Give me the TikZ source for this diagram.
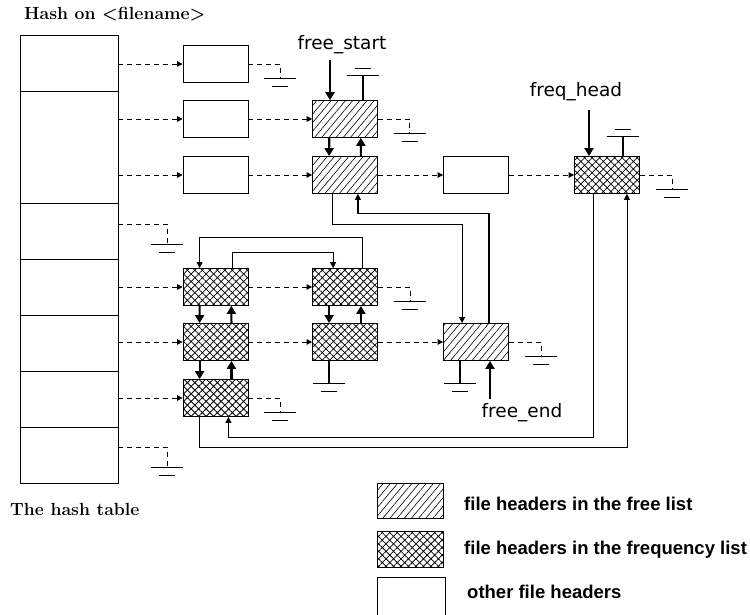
\documentclass[tikz,border=0pt]{standalone}
\usepackage{fontspec}
\usepackage{tikz}
\usetikzlibrary{arrows.meta,patterns.meta}
\newfontfamily\ptrfont{DejaVu Sans}
\newfontfamily\keyfont{Liberation Sans}
\definecolor{ink}{HTML}{000000}
\newcommand{\HdrW}{65pt}
\newcommand{\HdrH}{37pt}
\newcommand{\Off}{17pt}

\begin{document}
\begin{tikzpicture}[x=1pt,y=-1pt,
  every node/.style={inner sep=0pt},
  hdr/.style={draw=ink,line width=0.8pt,minimum width=\HdrW,minimum height=\HdrH},
  freehdr/.style={hdr,pattern={Lines[angle=50,distance=5.5pt,line width=0.6pt]},pattern color=ink},
  freqhdr/.style={hdr,pattern={Hatch[angle=45,distance=5.3pt,line width=0.75pt]},pattern color=ink},
  slot/.style={draw=ink,line width=0.8pt,minimum width=98pt},
  link/.style={ink,line width=0.8pt,dash pattern=on 5pt off 4pt,-{Triangle[length=5.5pt,width=5.5pt]}},
  nil/.style={ink,line width=0.8pt,dash pattern=on 5pt off 4pt},
  wire/.style={ink,line width=0.8pt,-{Triangle[length=6pt,width=6pt]}},
  bold/.style={ink,line width=2.2pt,-{Triangle[length=8pt,width=9pt]}},
  stub/.style={ink,line width=2.2pt},
  ptrlabel/.style={font=\ptrfont\fontsize{18.5}{20}\selectfont,anchor=base},
  heading/.style={font=\bfseries\fontsize{17.6}{19}\selectfont,anchor=base west},
  keytext/.style={font=\keyfont\bfseries\fontsize{18.5}{20}\selectfont,anchor=base west},
  earth/.pic={\draw[ink,line width=0.8pt] (-16,0) -- (16,0) (-8,8) -- (8,8);},
  sky/.pic={\draw[ink,line width=0.8pt] (-16,0) -- (16,0) (-8,-7) -- (8,-7);}
]
\path[use as bounding box,clip] (0,0) rectangle (750,615);

\node[heading] (thash) at (24,20) {Hash on <filename>};
\node[heading] (ttable) at (10,515) {The hash table};

\foreach \ya/\yb [count=\i from 0] in {35/91,91/203,203/259,259/315,315/371,371/427,427/483}
  \node[slot,minimum height=\yb pt-\ya pt] (h\i) at (69,{(\ya+\yb)/2}) {};

\foreach \n/\x/\y in {o1/215.5/64,o2/215.5/119,o3/215.5/175,o4/476/175}
  \node[hdr] (\n) at (\x,\y) {};
\foreach \n/\x/\y in {f1/345/119,f2/345/175,f3/476/342}
  \node[freehdr] (\n) at (\x,\y) {};
\foreach \n/\x/\y in {q1/215.5/287,q2/215.5/342,q3/215.5/398,q4/345/287,q5/345/342,qh/607/175}
  \node[freqhdr] (\n) at (\x,\y) {};

\foreach \r/\b in {0/o1,1/o2,1/o3,3/q1,4/q2,5/q3}
  \draw[link] (\b.west -| h\r.east) -- (\b.west);
\foreach \a/\b in {o2/f1,o3/f2,f2/o4,o4/qh,q1/q4,q2/q5,q5/f3}
  \draw[link] (\a.east) -- (\b.west);

\foreach \b/\g in {o1/g1,f1/g2,qh/g3,q4/g4,f3/g5,q3/g6} {
  \draw[nil] (\b.east) -| ++(32,14) coordinate (\g);
  \pic at (\g) {earth};
}
\draw[nil] ([yshift=7pt]h2.east) -| ++(49,20) coordinate (g7);
\pic at (g7) {earth};
\draw[nil] ([yshift=8pt]h6.east) -| ++(49,20) coordinate (g8);
\pic at (g8) {earth};

\draw[stub] ([xshift=-15pt]f1.north east) -- ++(0,-25) coordinate (s1);
\pic at (s1) {sky};
\draw[stub] ([xshift=-\Off]qh.north east) -- ++(0,-20) coordinate (s2);
\pic at (s2) {sky};
\draw[stub] ([xshift=\Off]q5.south west) -- ++(0,22) coordinate (d1);
\pic at (d1) {earth};
\draw[stub] ([xshift=\Off]f3.south west) -- ++(0,22) coordinate (d2);
\pic at (d2) {earth};

\foreach \a/\b in {f1/f2,q1/q2,q2/q3,q4/q5} {
  \draw[bold] ([xshift=\Off]\a.south west) -- ([xshift=\Off]\b.north west);
  \draw[bold] ([xshift=-\Off]\b.north east) -- ([xshift=-\Off]\a.south east);
}

\node[ptrlabel] (lstart) at (342,50) {free\_start};
\coordinate (pstart) at (330,60);
\draw[bold] (pstart) -- (pstart |- f1.north);
\node[ptrlabel] (lhead) at (576,97) {freq\_head};
\coordinate (phead) at (589,110);
\draw[bold] (phead) -- (phead |- qh.north);
\node[ptrlabel] (lend) at (522,417) {free\_end};
\coordinate (pend) at (490,399);
\draw[bold] (pend) -- (pend |- f3.south);

\draw[wire] ([xshift=20pt]f2.south west) -- ++(0,30) -| ([xshift=19pt]f3.north west);
\draw[wire,line width=1.2pt] ([xshift=-20pt]f3.north east) -- ++(0,-110) -| ([xshift=-20pt]f2.south east);
\draw[wire] ([xshift=-16pt]q4.north east) -- ++(0,-31) -| ([xshift=\Off]q1.north west);
\draw[wire] ([xshift=-16pt]q1.north east) -- ++(0,-16) -| ([xshift=21pt]q4.north west);
\draw[wire] ([xshift=\Off]q3.south west) -- ++(0,30) -| ([xshift=-13pt]qh.south east);
\draw[wire] ([xshift=19pt]qh.south west) -- ++(0,243) -| ([xshift=-20pt]q3.south east);

\node[freehdr,minimum width=66pt,minimum height=35pt] (k1) at (410,500.5) {};
\node[freqhdr,minimum width=66pt,minimum height=36pt] (k2) at (410,549) {};
\node[hdr,minimum width=68pt,minimum height=60pt] (k3) at (411,607) {};
\node[keytext] (t1) at (464,510) {file headers in the free list};
\node[keytext] (t2) at (464,554) {file headers in the frequency list};
\node[keytext] (t3) at (467,598) {other file headers};
\end{tikzpicture}
\end{document}
